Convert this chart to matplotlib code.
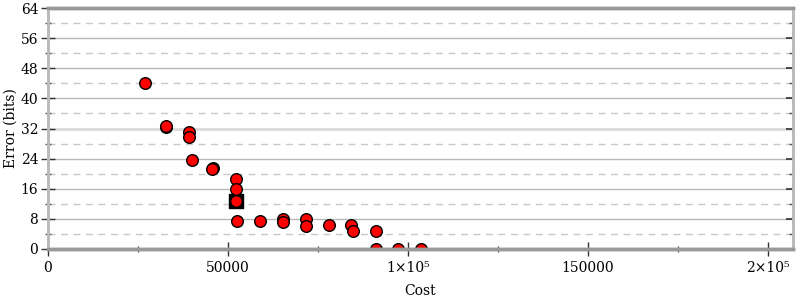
import numpy as np
import matplotlib
matplotlib.use('Agg')
import matplotlib.pyplot as plt
from matplotlib.ticker import FixedLocator, MultipleLocator

# data
cost = [26900, 32800, 32900, 39250, 39250, 39900, 45900, 45600,
        52300, 52300, 52300, 52400, 58800, 65200, 65200, 71700, 71700,
        78050, 84350, 84800, 91200, 91200, 97400, 103800]
error = [44.1, 32.4, 32.6, 31.0, 29.8, 23.6, 21.6, 21.2,
         18.6, 15.9, 12.8, 7.4, 7.4, 8.0, 7.3, 8.0, 6.2,
         6.3, 6.3, 4.8, 4.8, 0.0, 0.0, 0.0]
best_cost = [52300]
best_error = [12.8]

x_ticks = [0, 50000, 100000, 150000, 200000]
x_labels = ['0', '50000', '1×10⁵', '150000', '2×10⁵']
y_ticks = list(range(0, 65, 8))

plt.rcParams['font.family'] = 'DejaVu Serif'

fig = plt.figure(figsize=(8, 3), dpi=100)
ax = fig.add_axes([0.06, 0.17, 0.931, 0.803])

# grid
for y in range(8, 64, 8):
    if y == 32:
        ax.axhline(y, color='#dddddd', lw=2.2, zorder=1)
    else:
        ax.axhline(y, color='#b8b8b8', lw=1, zorder=1)
for y in range(4, 64, 8):
    ax.axhline(y, color='#c8c8c8', lw=1, ls=(0, (5, 4)), zorder=1)

ax.scatter(best_cost, best_error, marker='s', s=110, color='black', zorder=3)
ax.scatter(cost, error, s=70, facecolor='#ff0000', edgecolor='black', linewidth=1, zorder=4)

ax.set_xlim(0, 207000)
ax.set_ylim(0, 64)

ax.xaxis.set_major_locator(FixedLocator(x_ticks))
ax.set_xticklabels(x_labels)
ax.xaxis.set_minor_locator(MultipleLocator(25000))
ax.yaxis.set_major_locator(FixedLocator(y_ticks))
ax.yaxis.set_minor_locator(MultipleLocator(4))

ax.tick_params(axis='both', which='major', direction='inout', length=10, width=1,
               color='#333333', labelsize=10, pad=2)
ax.tick_params(axis='both', which='minor', direction='inout', length=5, width=1, color='#555555')
ax.tick_params(axis='x', pad=4)

# right-hand ticks point inward only
ax2 = ax.twinx()
ax2.set_ylim(0, 64)
ax2.yaxis.set_major_locator(FixedLocator(y_ticks))
ax2.yaxis.set_minor_locator(MultipleLocator(4))
ax2.tick_params(axis='y', which='major', direction='in', length=5, width=1.2,
                color='#333333', labelright=False)
ax2.tick_params(axis='y', which='minor', direction='in', length=3, width=1, color='#555555')

for a in (ax, ax2):
    for side in ['left', 'right']:
        a.spines[side].set_color('#bbbbbb')
        a.spines[side].set_linewidth(2)
    for side in ['top', 'bottom']:
        a.spines[side].set_color('#999999')
        a.spines[side].set_linewidth(2.5)
    for sp in a.spines.values():
        sp.set_zorder(5)

ax.set_xlabel('Cost', fontsize=10, labelpad=6)
ax.set_ylabel('Error (bits)', fontsize=10, labelpad=2)

fig.savefig('out.png', dpi=100)
